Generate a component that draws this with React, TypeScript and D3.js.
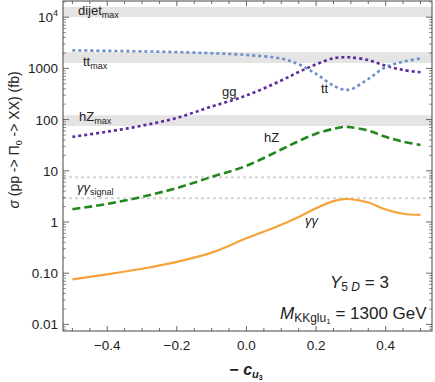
import React from 'react'
import * as d3 from 'd3'

// -c_u3 grid
const cu = [-0.5, -0.4, -0.3, -0.2, -0.1, 0, 0.1, 0.15, 0.2, 0.25, 0.28, 0.3, 0.35, 0.4, 0.45, 0.5]

// cross sections (fb)
const ttVals = [2250, 2200, 2150, 2080, 1980, 1830, 1550, 1200, 780, 460, 385, 390, 620, 1060, 1350, 1560]
const ggVals = [46, 58, 76, 108, 180, 295, 580, 850, 1200, 1580, 1650, 1640, 1450, 1130, 930, 840]
const hzVals = [1.78, 2.25, 3.1, 4.6, 7.6, 12.5, 26, 38, 53, 66, 72, 71, 61, 46, 37, 32]
const aaVals = [0.076, 0.095, 0.122, 0.166, 0.252, 0.48, 0.88, 1.25, 1.85, 2.55, 2.8, 2.78, 2.4, 1.75, 1.45, 1.38]

// limits
const bands = [
  { name: 'dijet', lo: 10000, hi: 16000 },
  { name: 'tt', lo: 1270, hi: 2080 },
  { name: 'hZ', lo: 75, hi: 122 },
]
const signalLines = [7.5, 2.9]

const xTicks = [-0.4, -0.2, 0, 0.2, 0.4]
const yTicks = [10000, 1000, 100, 10, 1, 0.1, 0.01]
const yTickLabels = ['', '1000', '100', '10', '1', '0.10', '0.01']

const W = 435
const H = 382
const L = 63
const R = 432
const T = 1
const B = 331

const x = d3.scaleLinear().domain([-0.527, 0.533]).range([L, R])
const y = d3.scaleLog().domain([Math.pow(10, -2.129), Math.pow(10, 4.316)]).range([B, T])

const line = d3
  .line<number>()
  .x((d, i) => x(cu[i]))
  .y((d) => y(d))
  .curve(d3.curveCatmullRom.alpha(0.5))

const font = '"Liberation Sans", Arial, sans-serif'

const App = () => {
  // minor ticks
  const xMinor = d3.range(-0.5, 0.5001, 0.05).map((v) => Math.round(v * 100) / 100)
  const yMinor: number[] = []
  for (let e = -3; e <= 4; e++) {
    for (let k = 2; k <= 9; k++) {
      const v = k * Math.pow(10, e)
      if (y(v) <= B && y(v) >= T) yMinor.push(v)
    }
  }
  const axisColor = '#444'

  return (
    <svg width={W} height={H} style={{ position: 'absolute', left: 0, top: 0, background: 'white' }} fontFamily={font}>
      {/* bands */}
      {bands.map((b) => (
        <rect key={b.name} x={L} width={R - L} y={y(b.hi)} height={y(b.lo) - y(b.hi)} fill="#e4e4e4" />
      ))}
      {signalLines.map((v) => (
        <line key={v} x1={L} x2={R} y1={y(v)} y2={y(v)} stroke="#d4d4d4" strokeWidth={2} strokeDasharray="3,3" />
      ))}

      {/* curves */}
      <path d={line(aaVals) || ''} fill="none" stroke="#f7a23a" strokeWidth={2.2} />
      <path d={line(hzVals) || ''} fill="none" stroke="#23871f" strokeWidth={2.6} strokeDasharray="8,4" />
      <path d={line(ggVals) || ''} fill="none" stroke="#5a2a9e" strokeWidth={2.6} strokeDasharray="3,3" />
      <path d={line(ttVals) || ''} fill="none" stroke="#6b8fc8" strokeWidth={2.6} strokeDasharray="3,3" />

      {/* frame */}
      <rect x={L} y={T} width={R - L} height={B - T} fill="none" stroke={axisColor} strokeWidth={1} />

      {/* x ticks */}
      {xMinor.map((v) => {
        const major = xTicks.some((t) => Math.abs(t - v) < 1e-6)
        const len = major ? 5 : 3
        return (
          <g key={'x' + v} stroke={axisColor} strokeWidth={0.8}>
            <line x1={x(v)} x2={x(v)} y1={B} y2={B - len} />
            <line x1={x(v)} x2={x(v)} y1={T} y2={T + len} />
          </g>
        )
      })}
      {xTicks.map((v) => (
        <text key={'xl' + v} x={x(v)} y={B + 19} fontSize={13.5} textAnchor="middle" fill="#222">
          {(v < 0 ? '\u2212' : '') + Math.abs(v).toFixed(1)}
        </text>
      ))}

      {/* y ticks */}
      {yTicks.map((v) => (
        <g key={'y' + v} stroke={axisColor} strokeWidth={0.8}>
          <line x1={L} x2={L + 6} y1={y(v)} y2={y(v)} />
          <line x1={R} x2={R - 6} y1={y(v)} y2={y(v)} />
        </g>
      ))}
      {yMinor.map((v) => (
        <g key={'ym' + v} stroke={axisColor} strokeWidth={0.6}>
          <line x1={L} x2={L + 3} y1={y(v)} y2={y(v)} />
          <line x1={R} x2={R - 3} y1={y(v)} y2={y(v)} />
        </g>
      ))}
      {yTicks.map((v, i) =>
        v === 10000 ? (
          <text key={'yl' + v} x={58} y={y(v) + 5} fontSize={13.5} textAnchor="end" fill="#222">
            10<tspan dy={-6} fontSize={9}>4</tspan>
          </text>
        ) : (
          <text key={'yl' + v} x={58} y={y(v) + 5} fontSize={13.5} textAnchor="end" fill="#222">
            {yTickLabels[i]}
          </text>
        )
      )}

      {/* axis titles */}
      <text x={246} y={375} fontSize={16} textAnchor="middle" fill="#222" fontWeight="bold">
        {'\u2212 '}
        <tspan fontStyle="italic">c</tspan>
        <tspan fontStyle="italic" fontSize={11} dy={3}>u</tspan>
        <tspan fontSize={7} dy={2}>3</tspan>
      </text>
      <text transform="translate(19,140) rotate(-90)" fontSize={14} textAnchor="middle" fill="#222">
        <tspan fontStyle="italic">σ</tspan> (pp -{'>'} Π<tspan fontSize={9} dy={3}>0</tspan>
        <tspan dy={-3}> -{'>'} XX) (fb)</tspan>
      </text>

      {/* curve and band labels */}
      <g fontSize={13} fill="#222">
        <text x={78} y={y(10000) - 2}>
          dijet<tspan fontSize={9} dy={3}>max</tspan>
        </text>
        <text x={83} y={66}>
          tt<tspan fontSize={9} dy={3}>max</tspan>
        </text>
        <text x={79} y={121}>
          hZ<tspan fontSize={9} dy={3}>max</tspan>
        </text>
        <text x={77} y={192}>
          <tspan fontStyle="italic">γγ</tspan>
          <tspan fontSize={9} dy={3}>signal</tspan>
        </text>
        <text x={222} y={96}>gg</text>
        <text x={321} y={93}>tt</text>
        <text x={264} y={142}>hZ</text>
        <text x={305} y={225} fontStyle="italic">γγ</text>
      </g>
      <g fontSize={17} fill="#222">
        <text x={330} y={288}>
          <tspan fontStyle="italic">Y</tspan>
          <tspan fontSize={12} dy={3}>5 </tspan>
          <tspan fontSize={12} fontStyle="italic">D</tspan>
          <tspan dy={-3}> = 3</tspan>
        </text>
        <text x={280} y={319}>
          <tspan fontStyle="italic">M</tspan>
          <tspan fontSize={12} dy={3}>KKglu</tspan>
          <tspan fontSize={8} dy={2}>1</tspan>
          <tspan dy={-5}> = 1300 GeV</tspan>
        </text>
      </g>
    </svg>
  )
}

export default App
